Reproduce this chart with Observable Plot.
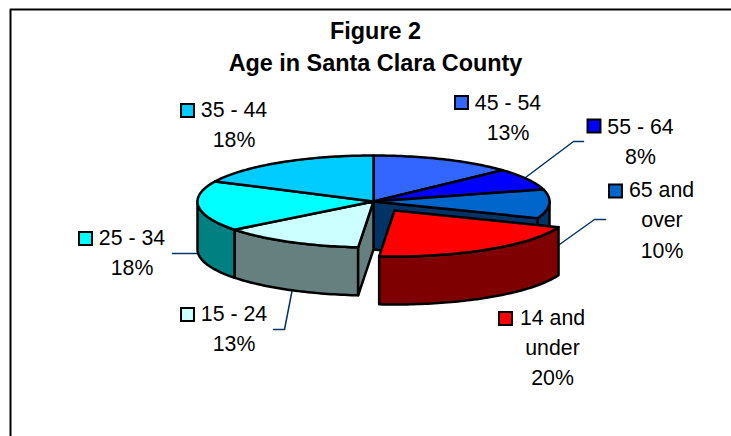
<!DOCTYPE html>
<html><head><meta charset="utf-8">
<script src="https://cdn.jsdelivr.net/npm/d3@7"></script>
<script src="https://cdn.jsdelivr.net/npm/@observablehq/plot@0.6"></script>
<style>html,body{margin:0;padding:0;background:#fff}svg{display:block}</style>
</head><body><div id="chart"></div>
<script>
// Data, clockwise from 12 o'clock (labels round these values)
const categories = ["45 - 54","55 - 64","65 and over","14 and under","15 - 24","25 - 34","35 - 44"];
const shares = [13.1,7.7,10.1,20.49,13.1,17.7,17.81];
const topColors = ["#3366FF","#0000FF","#0066CC","#FF0000","#CCFFFF","#00FFFF","#00CCFF"];
const sideColors = ["#1F3D99","#000080","#003366","#7F0000","#668080","#008080","#007AA0"];
const titleLines = ["Figure 2","Age in Santa Clara County"];

// Pie geometry
const cx = 373, cy = 201, rx = 176, ry = 46, depth = 48;
const explode = {dx: 21, dy: 9};
const explodedIndex = 3;

let cum = 0;
const slices = categories.map((name,i)=>{
  const a0 = cum/100*2*Math.PI; cum += shares[i];
  return {name, i, a0, a1: cum/100*2*Math.PI};
});
const pt = (a,dx=0,dy=0)=>({x:cx+dx+rx*Math.sin(a), y:cy+dy-ry*Math.cos(a)});
const arc = (a0,a1,dx=0,dy=0)=>{
  const n = Math.max(2,Math.ceil((a1-a0)/0.02)), out=[];
  for(let k=0;k<=n;k++) out.push(pt(a0+(a1-a0)*k/n,dx,dy));
  return out;
};
const closed = p=>[...p,p[0]];
const topFace = (s,dx=0,dy=0)=>closed([{x:cx+dx,y:cy+dy},...arc(s.a0,s.a1,dx,dy)]);
const outerWall = (a0,a1,dx=0,dy=0)=>{
  const t = arc(a0,a1,dx,dy);
  return closed([...t,...t.slice().reverse().map(p=>({x:p.x,y:p.y+depth}))]);
};
const cutWall = (a,dx=0,dy=0)=>{
  const e = pt(a,dx,dy);
  return closed([{x:cx+dx,y:cy+dy},e,{x:e.x,y:e.y+depth},{x:cx+dx,y:cy+dy+depth}]);
};
const poly = (points,fill)=>Plot.line(points,{x:"x",y:"y",fill,stroke:"#000",strokeWidth:2.5,strokeLinejoin:"round"});

const front0 = Math.PI/2, front1 = 3*Math.PI/2;
const rest = slices.filter(s=>s.i!==explodedIndex);
const ex = slices[explodedIndex];
const polys = [];
for(const s of rest){
  const a0=Math.max(s.a0,front0), a1=Math.min(s.a1,front1);
  if(a1>a0) polys.push(poly(outerWall(a0,a1),sideColors[s.i]));
}
polys.push(poly(cutWall(ex.a0),sideColors[ex.i-1]));
polys.push(poly(cutWall(ex.a1),sideColors[ex.i+1]));
for(const s of rest) polys.push(poly(topFace(s),topColors[s.i]));
polys.push(poly(outerWall(ex.a0,ex.a1,explode.dx,explode.dy),sideColors[ex.i]));
polys.push(poly(topFace(ex,explode.dx,explode.dy),topColors[ex.i]));

// Annotation layout (label rows, swatches, leaders)
const labelRows = [
  {x:507.5,y:103,t:"45 - 54"},{x:507.5,y:133,t:"13%"},
  {x:640,y:127,t:"55 - 64"},{x:640,y:157,t:"8%"},
  {x:661,y:190,t:"65 and"},{x:661.5,y:220,t:"over"},{x:661.5,y:251,t:"10%"},
  {x:552,y:318,t:"14 and"},{x:552,y:348,t:"under"},{x:552,y:378,t:"20%"},
  {x:233.5,y:314,t:"15 - 24"},{x:233.5,y:344,t:"13%"},
  {x:131.5,y:238,t:"25 - 34"},{x:131.5,y:268,t:"18%"},
  {x:233.5,y:110,t:"35 - 44"},{x:233.5,y:140,t:"18%"}
];
const swatches = [
  {x:461,y:102,c:0},{x:593.5,y:125.5,c:1},{x:615,y:190.5,c:2},{x:505,y:318,c:3},
  {x:187,y:314,c:4},{x:85,y:238,c:5},{x:187,y:110,c:6}
];
const leaders = [
  [{x:525,y:177},{x:573,y:141},{x:583,y:141}],
  [{x:559,y:244},{x:594,y:219},{x:605,y:219}],
  [{x:292,y:288},{x:284,y:329},{x:273,y:329}],
  [{x:198,y:253},{x:172,y:253}]
];
const frame = [{x:10,y:9},{x:731,y:9},{x:10,y:9},{x:10,y:436}];

const chart = Plot.plot({
  width:731,height:436,margin:0,
  x:{domain:[0,731],range:[0,731],axis:null},
  y:{domain:[0,436],range:[0,436],axis:null},
  style:{background:"#fff",fontFamily:"'Liberation Sans',Arial,sans-serif"},
  marks:[
    Plot.line(frame,{x:"x",y:"y",stroke:"#000",strokeWidth:2}),
    ...leaders.map(l=>Plot.line(l,{x:"x",y:"y",stroke:"#003366",strokeWidth:1.5})),
    ...polys,
    Plot.text(titleLines,{x:()=>375,y:(d,i)=>[31,63][i],text:d=>d,fontSize:23.4,fontWeight:"bold",fill:"#000",lineAnchor:"middle"}),
    Plot.text(labelRows,{x:"x",y:"y",text:"t",fontSize:21.3,fill:"#000",lineAnchor:"middle"}),
    Plot.dot(swatches,{x:"x",y:"y",symbol:"square",r:7.3,fill:d=>topColors[d.c],stroke:"#000",strokeWidth:2})
  ]
});
document.getElementById("chart").append(chart);
</script></body></html>
